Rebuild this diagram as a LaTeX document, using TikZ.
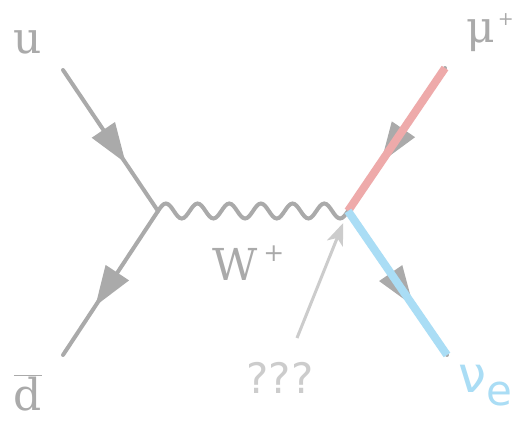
\documentclass[tikz,border=0pt]{standalone}
\usepackage{fontspec}
\setmainfont{DejaVu Serif}
\newfontfamily\labelsans{DejaVu Sans}
\usetikzlibrary{arrows.meta,decorations.markings}
\definecolor{linegray}{HTML}{AAAAAA}
\definecolor{palegray}{HTML}{CCCCCC}
\definecolor{muonred}{HTML}{EEAAAA}
\definecolor{nublue}{HTML}{AADDF5}
\begin{document}
\begin{tikzpicture}[x=1pt,y=-1pt]
    \useasboundingbox[fill=white] (0,0) rectangle (516,420);

    \tikzset{
        fermion/.style={draw=linegray, line width=4pt, line cap=round,
            postaction={decorate}, decoration={markings,
            mark=at position 0.66 with {\arrow{Triangle[length=40pt,width=27pt]}}}},
        lepton/.style={draw=#1, line width=8pt},
        boson/.style={draw=linegray, line width=4pt, line cap=round},
        label/.style={inner sep=0pt, text=linegray, font=\fontsize{44}{50}\selectfont}
    }

    \coordinate (v1) at (158,211);
    \coordinate (v2) at (348,211);
    \coordinate (uend) at (63,70);
    \coordinate (dend) at (63,355);
    \coordinate (muend) at (445,68);
    \coordinate (nuend) at (447,355);
    \coordinate (qqtail) at (297,338);

    \node[label, anchor=base] (ulab) at (28,53) {u};
    \node[label, anchor=base] (dlab) at (28,410) {$\overline{\hbox{d}}$};
    \node[label, anchor=base west] (mulab) at (466,43)
        {μ\kern3pt\raisebox{17.5pt}{\fontsize{19}{19}\selectfont +}};
    \node[label, anchor=base west] (wlab) at (212,280)
        {W\kern6pt\raisebox{18.5pt}{\fontsize{25}{25}\selectfont +}};
    \node[label, anchor=base, text=palegray, font=\labelsans\fontsize{42}{42}\selectfont]
        (qq) at (280,393) {???};
    \node[label, anchor=base west, text=nublue, font=\labelsans\fontsize{50}{50}\selectfont]
        (nulab) at (458,392) {ν\raisebox{-13pt}{\fontsize{42}{42}\selectfont e}};

    % W line, six full waves from v1 to v2
    \draw[boson] (v1) \foreach \k in {1,...,6} {
        sin ++(7.917,-7.5) cos ++(7.917,7.5) sin ++(7.917,7.5) cos ++(7.917,-7.5)};
    \draw[fermion] (uend) -- (v1);
    \draw[fermion] (v1) -- (dend);
    \draw[fermion] (muend) -- (v2);
    \draw[fermion] (v2) -- (nuend);
    \draw[lepton=muonred] (muend) -- (v2);
    \draw[lepton=nublue] (v2) -- (nuend);

    \draw[palegray, line width=3pt, -{Stealth[length=22pt,width=17pt,inset=6pt]},
        shorten >=13pt] (qqtail) -- (v2);

\end{tikzpicture}
\end{document}
